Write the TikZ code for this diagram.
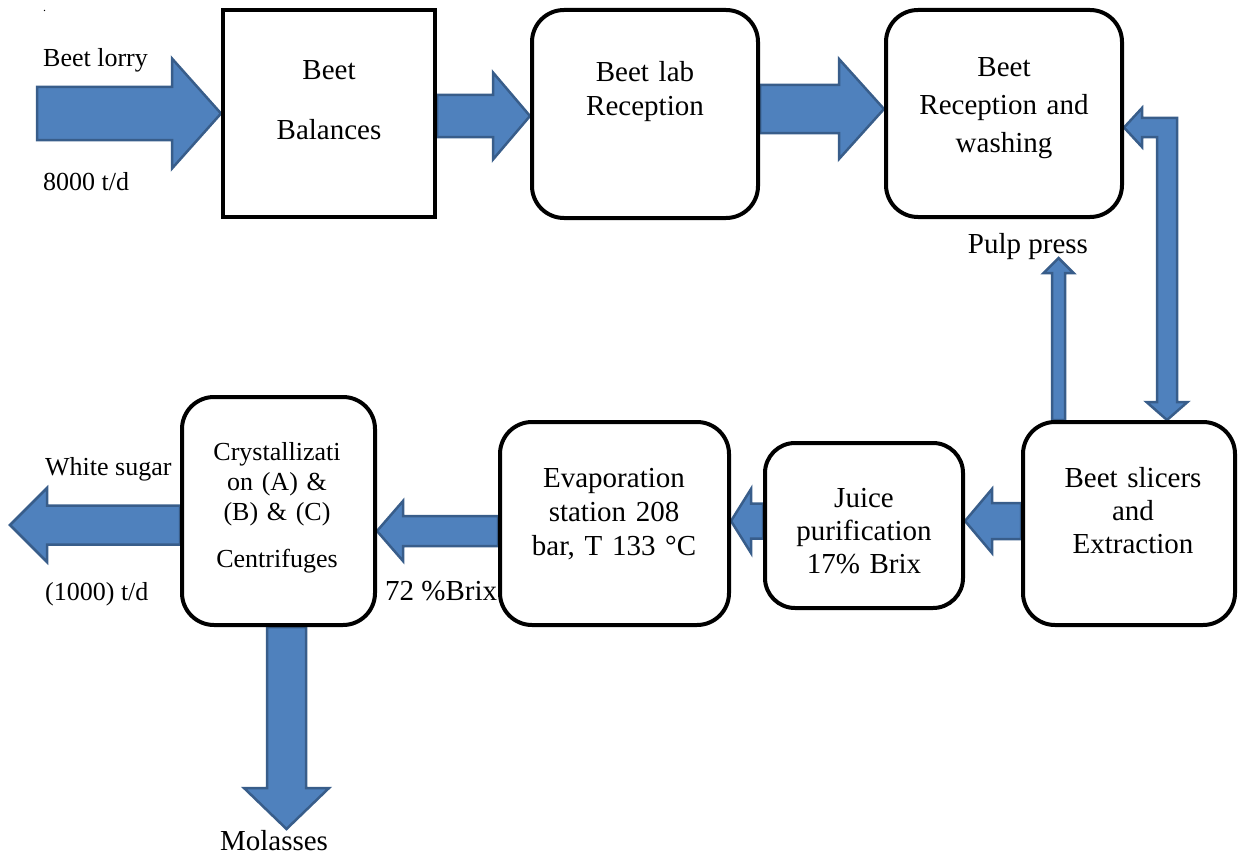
\documentclass[tikz,border=0pt]{standalone}
\usepackage{fontspec}
\setmainfont{Liberation Serif}
\usetikzlibrary{calc}
\definecolor{arrFill}{RGB}{79,129,189}
\definecolor{arrLine}{RGB}{56,93,138}
\pgfdeclarelayer{bg}
\pgfsetlayers{bg,main}
% block arrows: #1 tail, #2 tip, #3 shaft half width, #4 head half width, #5 head length
\newcommand\arrowR[5]{\filldraw[flow] let \p1=#1, \p2=#2 in (\x1,\y2+#3pt) -- (\x2-#5pt,\y2+#3pt) -- (\x2-#5pt,\y2+#4pt) -- (\x2,\y2) -- (\x2-#5pt,\y2-#4pt) -- (\x2-#5pt,\y2-#3pt) -- (\x1,\y2-#3pt) -- cycle;}
\newcommand\arrowL[5]{\filldraw[flow] let \p1=#1, \p2=#2 in (\x1,\y2+#3pt) -- (\x2+#5pt,\y2+#3pt) -- (\x2+#5pt,\y2+#4pt) -- (\x2,\y2) -- (\x2+#5pt,\y2-#4pt) -- (\x2+#5pt,\y2-#3pt) -- (\x1,\y2-#3pt) -- cycle;}
\newcommand\arrowD[5]{\filldraw[flow] let \p1=#1, \p2=#2 in (\x2-#3pt,\y1) -- (\x2-#3pt,\y2+#5pt) -- (\x2-#4pt,\y2+#5pt) -- (\x2,\y2) -- (\x2+#4pt,\y2+#5pt) -- (\x2+#3pt,\y2+#5pt) -- (\x2+#3pt,\y1) -- cycle;}
\newcommand\arrowU[5]{\filldraw[flow] let \p1=#1, \p2=#2 in (\x2-#3pt,\y1) -- (\x2-#3pt,\y2-#5pt) -- (\x2-#4pt,\y2-#5pt) -- (\x2,\y2) -- (\x2+#4pt,\y2-#5pt) -- (\x2+#3pt,\y2-#5pt) -- (\x2+#3pt,\y1) -- cycle;}
\begin{document}
\begin{tikzpicture}[x=1pt,y=-1pt,
  box/.style={draw=black,line width=4pt,fill=white,inner sep=0pt,rounded corners=32pt},
  sqbox/.style={draw=black,line width=4pt,fill=white,inner sep=0pt},
  boxtext/.style={inner sep=0pt,anchor=base,align=center},
  lbl/.style={inner sep=0pt,font=\fontsize{26}{30}\selectfont},
  biglbl/.style={inner sep=0pt,font=\fontsize{29}{33}\selectfont},
  flow/.style={fill=arrFill,draw=arrLine,line width=2.5pt,line join=miter}]
\useasboundingbox (0,0) rectangle (1238,856);
% boxes
\node[sqbox,minimum width=212pt,minimum height=207pt] (bal) at (329,113.5) {};
\node[box,minimum width=226pt,minimum height=208pt] (lab) at (645,114) {};
\node[box,minimum width=236pt,minimum height=207pt] (rec) at (1004,113.5) {};
\node[box,minimum width=212pt,minimum height=203pt] (sli) at (1129,523.5) {};
\node[box,minimum width=198pt,minimum height=165pt,rounded corners=30pt] (jui) at (864,525.5) {};
\node[box,minimum width=229pt,minimum height=203pt] (eva) at (614.5,523.5) {};
\node[box,minimum width=193pt,minimum height=228pt] (cry) at (278.5,511) {};
% box texts
\node[boxtext,text width=200pt,font=\fontsize{29}{60}\selectfont] (balT) at (329,80) {Beet\\Balances};
\node[boxtext,text width=220pt,font=\fontsize{29}{33}\selectfont] (labT) at (645,82) {Beet lab\\Reception};
\node[boxtext,text width=230pt,font=\fontsize{29}{38}\selectfont] (recT) at (1004,77) {Beet\\Reception and\\washing};
\node[boxtext,text width=200pt,font=\fontsize{29}{33}\selectfont] (sliT) at (1133,487) {Beet slicers\\and\\Extraction};
\node[boxtext,text width=190pt,font=\fontsize{29}{33}\selectfont] (juiT) at (864,507) {Juice\\purification\\17\% Brix};
\node[boxtext,text width=225pt,font=\fontsize{29}{34}\selectfont] (evaT) at (614,487) {Evaporation\\station 208\\bar, T 133 °C};
\node[boxtext,text width=190pt,font=\fontsize{26}{30}\selectfont] (cryT) at (277,460) {Crystallizati\\on (A) \&\\(B) \& (C)\\[17pt]Centrifuges};
% labels
\node[inner sep=0pt,font=\fontsize{12}{14}\selectfont,anchor=base west] (dot) at (43,12) {.};
\node[lbl,anchor=base west] (lorry) at (43,67) {Beet lorry};
\node[lbl,anchor=base west] (t8000) at (43,190) {8000 t/d};
\node[lbl,anchor=base west] (sugar) at (45,475) {White sugar};
\node[lbl,anchor=base west] (t1000) at (45,600) {(1000) t/d};
\node[biglbl,anchor=base west] (brix) at (385,600) {72 \%Brix};
\node[biglbl,anchor=base] (mol) at (274,850) {Molasses};
\node[biglbl,anchor=base] (pulp) at (1028,253) {Pulp press};
% free ends
\coordinate (lorryIn) at (37,113.5);
\coordinate (sugarOut) at (10,525);
\coordinate (molOut) at (286.5,829);
\coordinate (pulpTip) at (1058.5,258);
% arrows
\begin{pgfonlayer}{bg}
\arrowR{(lorryIn)}{(bal.west |- 0,113.5)}{26.5}{55}{49}
\arrowR{(bal.east |- 0,116)}{(lab.west |- 0,116)}{21}{43.5}{37}
\arrowR{(lab.east |- 0,109)}{(rec.west |- 0,109)}{24}{50}{45}
\arrowL{(sli.west |- 0,521)}{(jui.east |- 0,521)}{18}{32}{27}
\arrowL{(jui.west |- 0,521)}{(eva.east |- 0,521)}{17.5}{32}{20}
\arrowL{(eva.west |- 0,531)}{(cry.east |- 0,531)}{15}{30}{26}
\arrowL{(cry.west |- 0,525)}{(sugarOut)}{19.5}{37}{37}
\arrowD{(cry.south -| 286.5,0)}{(molOut)}{19.5}{42.5}{41}
\arrowU{(sli.north -| 1058.5,0)}{(pulpTip)}{6.5}{15}{15}
\filldraw[flow] let \p1=(rec.east |- 0,127.5), \p2=(sli.north -| 1167,0) in
  (\x1,\y1) -- (\x1+18pt,\y1+19.5pt) -- (\x1+18pt,\y1+9.5pt) -- (\x2+10pt,\y1+9.5pt)
  -- (\x2+10pt,\y2+18pt) -- (\x2+20.5pt,\y2+18pt) -- (\x2,\y2) -- (\x2-20.5pt,\y2+18pt)
  -- (\x2-10pt,\y2+18pt) -- (\x2-10pt,\y1-9.5pt) -- (\x1+18pt,\y1-9.5pt) -- (\x1+18pt,\y1-19.5pt) -- cycle;
\end{pgfonlayer}
\end{tikzpicture}
\end{document}
